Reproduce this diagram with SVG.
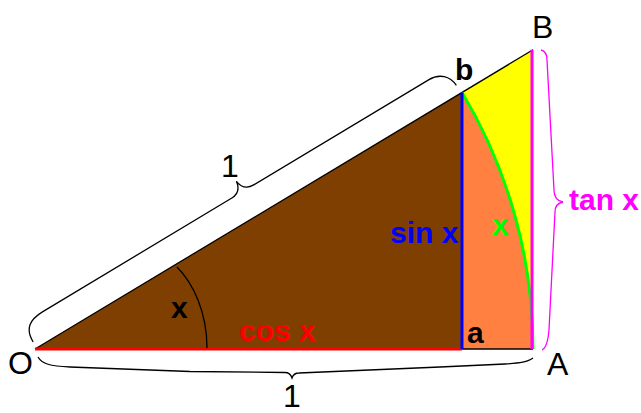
<svg xmlns="http://www.w3.org/2000/svg" width="641" height="413" viewBox="0 0 641 413">
  <style>
    .lbl { font-family: "Liberation Sans", Arial, sans-serif; }
    .cap { font-size: 32px; fill: #000; }
    .low { font-size: 30px; font-weight: bold; }
    .brace { fill: none; stroke: #000; stroke-width: 1.3; }
  </style>
  <rect width="641" height="413" fill="#ffffff"/>
  <g id="regions">
    <polygon id="triangle-Oba" points="35,349 462,92.5 462,349" fill="#7f3f00"/>
    <path id="sector-abA" d="M462,92.5 L462,349 L533,349 A498,498 0 0 0 462,92.5 Z" fill="#ff8040"/>
    <path id="region-bBA" d="M462,92.5 L533,49.8 L533,349 A498,498 0 0 0 462,92.5 Z" fill="#ffff00"/>
  </g>
  <g id="connectors">
    <line id="OB" x1="35" y1="349" x2="533" y2="49.8" stroke="#000" stroke-width="1.3"/>
    <line id="aA" x1="462" y1="349" x2="533" y2="349" stroke="#000" stroke-width="1.5"/>
    <line id="Oa-cos" x1="35" y1="349" x2="462" y2="349" stroke="#ff0000" stroke-width="3"/>
    <path id="arc-bA" d="M462,92.5 A498,498 0 0 1 533,349" fill="none" stroke="#00ff00" stroke-width="3"/>
    <line id="ab-sin" x1="462" y1="92.5" x2="462" y2="349" stroke="#0000ff" stroke-width="3"/>
    <line id="AB-tan" x1="532" y1="49.8" x2="532" y2="349" stroke="#ff00ff" stroke-width="3"/>
    <path id="angle-arc" d="M177,267 C193,283 207,312 207,348" fill="none" stroke="#000" stroke-width="1.3"/>
    <path id="brace-Ob" class="brace" transform="translate(35,349) rotate(-31)" d="M2,-7 C2,-22 10,-28 26,-28 L246,-28 C254,-28 258,-32 259,-40 C260,-32 264,-28 272,-28 L476,-28 C489,-28 496,-20 497,-9"/>
    <path id="brace-OA" class="brace" d="M38,357 C42,364 50,366 70,367 L190,371.5 L285,372.5 C289,372.5 291,375 292,378 C293,375 295,373 299,373 L440,367 L505,364 C520,363 528,362 533,358"/>
    <path id="brace-AB" d="M541,50 C545,51 547,54 547,60 L554,190 C554,197 558,201 563,202 C558,203 555,206 555,212 L549,330 C548,342 546,348 542,350" fill="none" stroke="#ff00ff" stroke-width="1.3"/>
  </g>
  <g id="labels" class="lbl">
    <text id="label-O" class="cap" x="8" y="374">O</text>
    <text id="label-A" class="cap" x="547" y="375">A</text>
    <text id="label-B" class="cap" x="532" y="38">B</text>
    <text id="label-b" class="low" x="455" y="80" fill="#000">b</text>
    <text id="label-a" class="low" x="467" y="343" fill="#000">a</text>
    <text id="label-1-top" class="cap" x="221" y="177">1</text>
    <text id="label-1-bottom" class="cap" x="283" y="407">1</text>
    <text id="label-x-angle" class="low" x="171" y="318" fill="#000">x</text>
    <text id="label-cos" class="low" x="239" y="341" fill="#ff0000">cos x</text>
    <text id="label-sin" class="low" x="390" y="243" fill="#0000ff">sin x</text>
    <text id="label-x-arc" class="low" x="492" y="235" fill="#00ff00">x</text>
    <text id="label-tan" class="low" x="569" y="210" fill="#ff00ff">tan x</text>
  </g>
</svg>
